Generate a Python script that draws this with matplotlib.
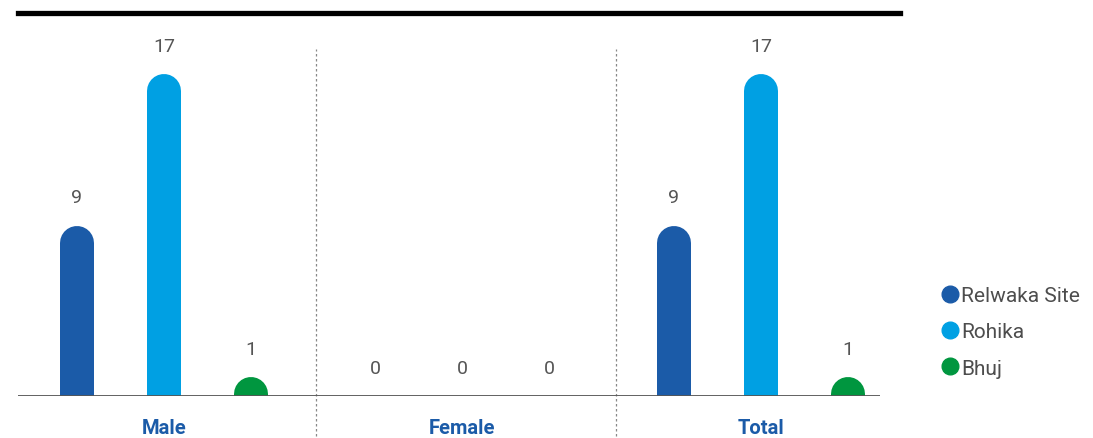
import matplotlib
matplotlib.use("Agg")
import matplotlib.pyplot as plt
from matplotlib.lines import Line2D

plt.rcParams['font.family'] = ['Roboto', 'DejaVu Sans']

groups = ['Male', 'Female', 'Total']
sites = ['Relwaka Site', 'Rohika', 'Bhuj']
counts = {
    'Relwaka Site': [9, 0, 9],
    'Rohika': [17, 0, 17],
    'Bhuj': [1, 0, 1],
}
colors = ['#1b5ba8', '#00a0e3', '#00963f']

W, H, DPI = 1093, 439, 100
fig = plt.figure(figsize=(W / DPI, H / DPI), dpi=DPI)

# axes box in pixels: baseline at y=397, spans x 18..880
left, right, bottom, top = 18, 880, 397, 40
ax = fig.add_axes([left / W, 1 - bottom / H, (right - left) / W, (bottom - top) / H])
ymax = 18.85
ax.set_ylim(0, ymax)
ax.set_xlim(-0.489, 2.399)
ax.axis('off')

bar_px = 34
px_per_unit = (bottom - top) / ymax
radius = (bar_px / 2) / px_per_unit
offset = 0.2915

for i, site in enumerate(sites):
    for g, v in enumerate(counts[site]):
        x = g + (i - 1) * offset
        if v > 0:
            # round-capped stroke: top cap ends exactly at v
            ax.plot([x, x], [0, v - radius], color=colors[i],
                    linewidth=bar_px * 72 / DPI, solid_capstyle='round',
                    zorder=2)
        ax.annotate(str(v), (x, v), xytext=(0, 20.5), textcoords='offset points',
                    ha='center', va='center', fontsize=14, color='#555555')

# baseline
ax.axhline(0, color='#555555', linewidth=1.3, zorder=3)

# dotted separators between groups, running below the baseline
for sx in [0.51, 1.515]:
    ax.plot([sx, sx], [-2.1, 18.3], color='#888888', linewidth=0.9,
            linestyle=(0, (2, 2)), clip_on=False, zorder=1)

# group labels
for g, name in enumerate(groups):
    ax.text(g, -1.65, name, ha='center', va='center', fontsize=14.5,
            fontweight='bold', color='#1b5ba8')

# heavy rule at the top
fig.add_artist(Line2D([18 / W, 900 / W], [1 - 14 / H, 1 - 14 / H],
                      color='black', linewidth=3.8))

handles = [Line2D([], [], marker='o', linestyle='none', markersize=12,
                  markerfacecolor=c, markeredgecolor=c) for c in colors]
fig.legend(handles, sites, loc='upper left',
           bbox_to_anchor=(941 / W, 1 - 287 / H), frameon=False,
           fontsize=15, labelcolor='#4d4d4d', handletextpad=0.05,
           handlelength=0.9, labelspacing=0.83, borderpad=0, borderaxespad=0)

fig.savefig('out.png', dpi=DPI)
